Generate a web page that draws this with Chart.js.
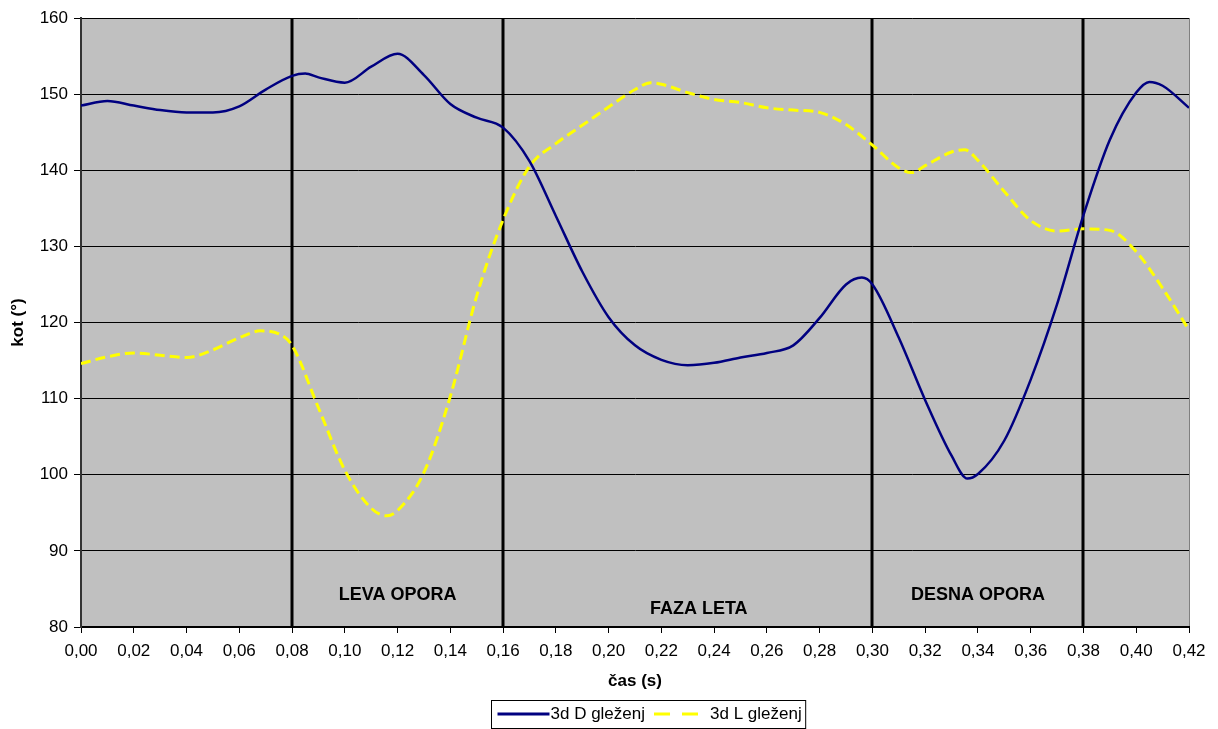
<!DOCTYPE html>
<html>
<head>
<meta charset="utf-8">
<script src="https://cdn.jsdelivr.net/npm/chart.js@4/dist/chart.umd.min.js"></script>
<style>
  html, body { margin: 0; padding: 0; background: #fff; }
  #wrap { width: 1218px; height: 729px; }
</style>
</head>
<body>
<div id="wrap"><canvas id="myChart" width="1218" height="729"></canvas></div>
<script>
// desni gleženj (D)
var casD = [0.000, 0.010, 0.020, 0.030, 0.040, 0.050, 0.060, 0.070, 0.080, 0.085,
            0.090, 0.100, 0.110, 0.120, 0.130, 0.140, 0.150, 0.160, 0.170, 0.180,
            0.190, 0.200, 0.210, 0.220, 0.230, 0.240, 0.250, 0.260, 0.270, 0.280,
            0.290, 0.296, 0.300, 0.310, 0.320, 0.330, 0.336, 0.340, 0.350, 0.360,
            0.370, 0.380, 0.390, 0.400, 0.405, 0.410, 0.420];
var kotD = [148.5, 149.1, 148.5, 147.9, 147.6, 147.6, 148.4, 150.6, 152.4, 152.7,
            152.2, 151.5, 153.6, 155.3, 152.5, 148.7, 146.9, 145.6, 141.2, 134.0,
            126.7, 120.7, 117.0, 115.1, 114.4, 114.7, 115.4, 116.0, 117.0, 120.6,
            125.0, 125.9, 125.0, 118.0, 109.8, 102.5, 99.5, 100.1, 104.5, 112.5,
            122.4, 134.1, 144.0, 150.2, 151.6, 151.1, 148.2];

// levi gleženj (L)
var casL = [0.000, 0.010, 0.020, 0.030, 0.040, 0.050, 0.060, 0.068, 0.075, 0.080,
            0.090, 0.100, 0.110, 0.116, 0.120, 0.130, 0.140, 0.150, 0.160, 0.170,
            0.180, 0.190, 0.200, 0.210, 0.216, 0.220, 0.230, 0.240, 0.250, 0.260,
            0.270, 0.280, 0.290, 0.300, 0.310, 0.315, 0.320, 0.330, 0.335, 0.340,
            0.350, 0.360, 0.370, 0.380, 0.390, 0.400, 0.410, 0.420];
var kotL = [114.6, 115.5, 116.0, 115.7, 115.4, 116.4, 118.0, 118.9, 118.5, 117.0,
            108.8, 100.6, 95.6, 94.6, 95.3, 100.3, 110.3, 123.5, 133.5, 140.5,
            143.5, 145.9, 148.3, 150.6, 151.5, 151.3, 150.2, 149.3, 148.9, 148.2,
            147.9, 147.6, 146.0, 143.3, 140.3, 139.7, 140.6, 142.4, 142.7, 141.3,
            137.2, 133.4, 132.0, 132.3, 132.1, 129.3, 124.5, 119.0];

// meje faz gibanja (s) in imena faz
var mejeFaz = [0.08, 0.16, 0.30, 0.38];
var imenaFaz = ['LEVA OPORA', 'FAZA LETA', 'DESNA OPORA'];

var serije = ['3d D gleženj', '3d L gleženj'];

function toPoints(xs, ys) {
    return xs.map(function (x, i) { return { x: x, y: ys[i] }; });
}

var FONT = '"Liberation Sans", Arial, sans-serif';
Chart.defaults.font.family = FONT;
Chart.defaults.color = '#000';

// sivo ozadje risalne ploskve
var ozadje = {
    id: 'ozadje',
    beforeDraw: function (chart) {
        var a = chart.chartArea, c = chart.ctx;
        c.save();
        c.fillStyle = '#c0c0c0';
        c.fillRect(a.left, a.top, a.right - a.left, a.bottom - a.top);
        c.strokeStyle = '#808080';
        c.lineWidth = 1;
        c.beginPath();
        c.moveTo(a.right + 0.5, a.top);
        c.lineTo(a.right + 0.5, a.bottom);
        c.stroke();
        c.restore();
    }
};

// navpicne crte med fazami in napisi faz
var faze = {
    id: 'faze',
    beforeDatasetsDraw: function (chart, args, opts) {
        var a = chart.chartArea, c = chart.ctx, xs = chart.scales.x;
        c.save();
        c.strokeStyle = '#000';
        c.lineWidth = 3;
        mejeFaz.forEach(function (t) {
            var px = Math.round(xs.getPixelForValue(t));
            c.beginPath();
            c.moveTo(px, a.top);
            c.lineTo(px, a.bottom);
            c.stroke();
        });
        c.fillStyle = '#000';
        c.font = 'bold 18px ' + FONT;
        c.textAlign = 'center';
        c.textBaseline = 'middle';
        imenaFaz.forEach(function (ime, i) {
            var mid = (mejeFaz[i] + mejeFaz[i + 1]) / 2;
            var px = xs.getPixelForValue(mid) + opts.dx[i];
            c.fillText(ime, px, a.bottom - opts.dy[i]);
        });
        c.restore();
    }
};

// legenda pod grafom, v okvirju
var legenda = {
    id: 'legenda',
    afterDraw: function (chart) {
        var c = chart.ctx, ds = chart.data.datasets;
        c.save();
        c.font = '17px ' + FONT;
        var w1 = c.measureText(ds[0].label).width;
        var w2 = c.measureText(ds[1].label).width;
        var total = 6 + 52 + 1 + w1 + 9 + 48 + 8 + w2 + 4;
        var left = Math.round(648 - total / 2) + 0.5;
        var top = 700.5, h = 28, cy = 714;
        c.fillStyle = '#fff';
        c.fillRect(left, top, total, h);
        c.strokeStyle = '#000';
        c.lineWidth = 1;
        c.strokeRect(left, top, total, h);

        var x = left + 6;
        c.lineWidth = 3;
        c.strokeStyle = ds[0].borderColor;
        c.beginPath(); c.moveTo(x, cy); c.lineTo(x + 52, cy); c.stroke();
        x += 53;
        c.fillStyle = '#000';
        c.textBaseline = 'middle';
        c.textAlign = 'left';
        c.fillText(ds[0].label, x, cy);
        x += w1 + 9;
        c.strokeStyle = ds[1].borderColor;
        c.setLineDash([16, 12]);
        c.beginPath(); c.moveTo(x, cy); c.lineTo(x + 48, cy); c.stroke();
        c.setLineDash([]);
        x += 56;
        c.fillText(ds[1].label, x, cy);
        c.restore();
    }
};

var ctx = document.getElementById('myChart').getContext('2d');
var myChart = new Chart(ctx, {
    type: 'line',
    data: {
        datasets: [{
            label: serije[0],
            data: toPoints(casD, kotD),
            borderColor: '#000080',
            borderWidth: 2.5,
            pointRadius: 0,
            cubicInterpolationMode: 'monotone',
            fill: false
        }, {
            label: serije[1],
            data: toPoints(casL, kotL),
            borderColor: '#ffff00',
            borderWidth: 3,
            borderDash: [10, 5],
            pointRadius: 0,
            cubicInterpolationMode: 'monotone',
            fill: false
        }]
    },
    options: {
        responsive: false,
        animation: false,
        devicePixelRatio: 1,
        layout: { padding: { left: 0, top: 18, right: 29, bottom: 0 } },
        plugins: {
            legend: { display: false },
            tooltip: { enabled: false },
            faze: { dx: [0, 11, 0], dy: [32, 18, 32] }
        },
        scales: {
            x: {
                type: 'linear',
                min: 0,
                max: 0.42,
                afterFit: function (s) { s.height = 102; },
                ticks: {
                    stepSize: 0.02,
                    autoSkip: false,
                    maxRotation: 0,
                    padding: 8,
                    font: { size: 17 },
                    callback: function (v) { return v.toFixed(2).replace('.', ','); }
                },
                grid: { drawOnChartArea: false, drawTicks: true, tickLength: 6, tickColor: '#000' },
                border: { color: '#000', width: 2 },
                title: {
                    display: true,
                    text: 'čas (s)',
                    font: { size: 17, weight: 'bold' },
                    padding: { top: 0, bottom: 37 }
                }
            },
            y: {
                min: 80,
                max: 160,
                afterFit: function (s) { s.width = 81; },
                ticks: { stepSize: 10, padding: 6, font: { size: 17 } },
                grid: { color: '#000', lineWidth: 1, tickLength: 7, tickColor: '#000' },
                border: { color: '#333', width: 2 },
                title: {
                    display: true,
                    text: 'kot (°)',
                    font: { size: 17, weight: 'bold' },
                    padding: { top: 8, bottom: 0 }
                }
            }
        }
    },
    plugins: [ozadje, faze, legenda]
});
</script>
</body>
</html>
